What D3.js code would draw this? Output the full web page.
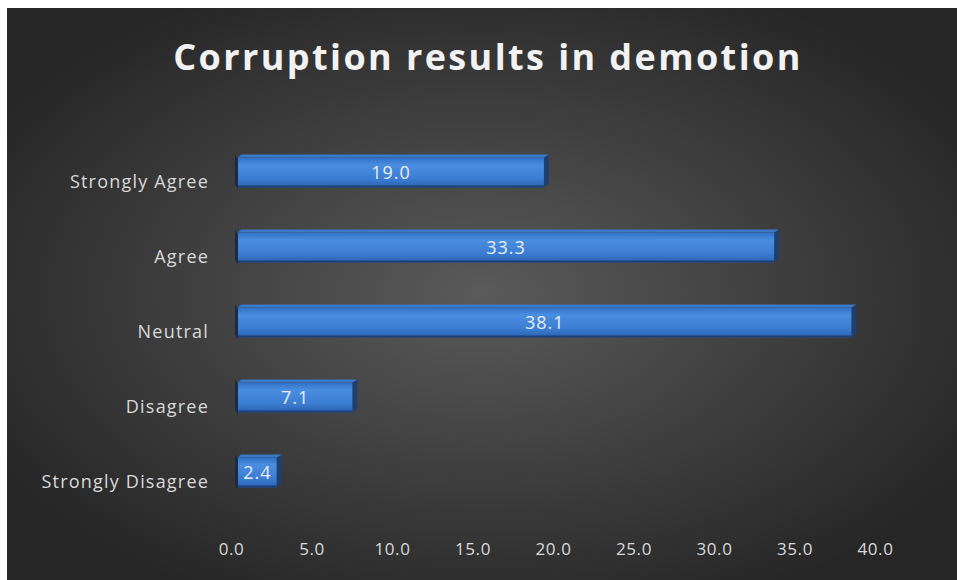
<!DOCTYPE html>
<html>
<head>
<meta charset="utf-8">
<script src="https://cdn.jsdelivr.net/npm/d3@7"></script>
<style>
  body { margin: 0; background: #fff; }
  .chart text { font-family: "Open Sans", "DejaVu Sans", sans-serif; }
</style>
</head>
<body>
<div class="chart"></div>
<script>
var svgWidth = 957;
var svgHeight = 580;

// data
var categories = ["Strongly Agree", "Agree", "Neutral", "Disagree", "Strongly Disagree"];
var values = [19.0, 33.3, 38.1, 7.1, 2.4];
var tickValues = [0, 5, 10, 15, 20, 25, 30, 35, 40];
var title = "Corruption results in demotion";

var svg = d3.select(".chart")
  .append("svg")
  .attr("width", svgWidth)
  .attr("height", svgHeight);

var defs = svg.append("defs");

// dark radial background
var bg = defs.append("radialGradient")
  .attr("id", "bg")
  .attr("cx", "50%").attr("cy", "50%").attr("r", "60%");
bg.append("stop").attr("offset", "0%").attr("stop-color", "#5a5a5a");
bg.append("stop").attr("offset", "100%").attr("stop-color", "#262626");

// bar face gradient
var barGrad = defs.append("linearGradient")
  .attr("id", "barFace")
  .attr("x1", 0).attr("y1", 0).attr("x2", 0).attr("y2", 1);
barGrad.append("stop").attr("offset", "0%").attr("stop-color", "#2f6fc4");
barGrad.append("stop").attr("offset", "25%").attr("stop-color", "#4a8ee0");
barGrad.append("stop").attr("offset", "70%").attr("stop-color", "#3b7dd2");
barGrad.append("stop").attr("offset", "100%").attr("stop-color", "#2a62b0");

svg.append("rect")
  .attr("x", 7).attr("y", 8)
  .attr("width", svgWidth - 7).attr("height", svgHeight - 8)
  .attr("fill", "url(#bg)");

// title
svg.append("text")
  .attr("x", 488)
  .attr("y", 70)
  .attr("text-anchor", "middle")
  .attr("fill", "#f2f2f2")
  .attr("font-size", 36)
  .attr("font-weight", "bold")
  .attr("letter-spacing", 2.4)
  .text(title);

// scales
var x = d3.scaleLinear().domain([0, 40]).range([231, 875]);
var y = d3.scaleBand().domain(categories).range([135, 510]).paddingInner(0.6).paddingOuter(0.3);

var depth = 7;

// x axis (labels only)
var xAxis = d3.axisBottom(x)
  .tickValues(tickValues)
  .tickFormat(d3.format(".1f"))
  .tickSize(0)
  .tickPadding(0);

var gx = svg.append("g")
  .attr("transform", "translate(0, 549)")
  .call(xAxis);
gx.select(".domain").remove();
gx.selectAll("text")
  .attr("fill", "#d9d9d9")
  .attr("font-size", 17)
  .attr("letter-spacing", 0.6)
  .attr("dy", "0.35em");

// y axis (labels only)
var yAxis = d3.axisLeft(y).tickSize(0).tickPadding(0);
var gy = svg.append("g")
  .attr("transform", "translate(209, 10)")
  .call(yAxis);
gy.select(".domain").remove();
gy.selectAll("text")
  .attr("fill", "#d9d9d9")
  .attr("font-size", 18)
  .attr("letter-spacing", 1.2);

// bars
var bars = svg.selectAll(".bar")
  .data(values)
  .enter()
  .append("g")
  .attr("class", "bar");

// back/left side shadow
bars.append("path")
  .attr("d", function(d, i) {
    var y0 = y(categories[i]);
    var h = y.bandwidth();
    var x0 = x(0) + depth;
    return "M" + (x0 - 3) + "," + (y0 - 3) + " L" + x0 + "," + (y0 + 2) +
      " L" + x0 + "," + (y0 + h + 2) + " L" + (x0 - 3) + "," + (y0 + h - 3) + "Z";
  })
  .attr("fill", "#1c2a44");

// right side face
bars.append("path")
  .attr("d", function(d, i) {
    var y0 = y(categories[i]);
    var h = y.bandwidth();
    var x1 = x(d) + depth;
    return "M" + x1 + "," + y0 + " L" + (x1 + 5) + "," + (y0 - 3) +
      " L" + (x1 + 5) + "," + (y0 + h - 4) + " L" + x1 + "," + (y0 + h) + "Z";
  })
  .attr("fill", "#1f3f70");

// top face
bars.append("path")
  .attr("d", function(d, i) {
    var y0 = y(categories[i]);
    var x0 = x(0) + depth;
    var x1 = x(d) + depth;
    return "M" + x0 + "," + y0 + " L" + (x0 + 3) + "," + (y0 - 3) +
      " L" + (x1 + 5) + "," + (y0 - 3) + " L" + x1 + "," + y0 + "Z";
  })
  .attr("fill", "#3a78c8");

// front face
bars.append("rect")
  .attr("x", x(0) + depth)
  .attr("y", function(d, i) { return y(categories[i]); })
  .attr("width", function(d) { return x(d) - x(0); })
  .attr("height", y.bandwidth())
  .attr("fill", "url(#barFace)");

// bottom edge shadow
bars.append("rect")
  .attr("x", x(0) + depth)
  .attr("y", function(d, i) { return y(categories[i]) + y.bandwidth() - 2; })
  .attr("width", function(d) { return x(d) - x(0); })
  .attr("height", 2)
  .attr("fill", "#1d3f72");

// value labels
bars.append("text")
  .attr("x", function(d) { return (x(0) + x(d)) / 2 + depth; })
  .attr("y", function(d, i) { return y(categories[i]) + y.bandwidth() / 2; })
  .attr("dy", "0.35em")
  .attr("text-anchor", "middle")
  .attr("fill", "#e8eef8")
  .attr("font-size", 18)
  .attr("letter-spacing", 1)
  .text(function(d) { return d.toFixed(1); });
</script>
</body>
</html>
